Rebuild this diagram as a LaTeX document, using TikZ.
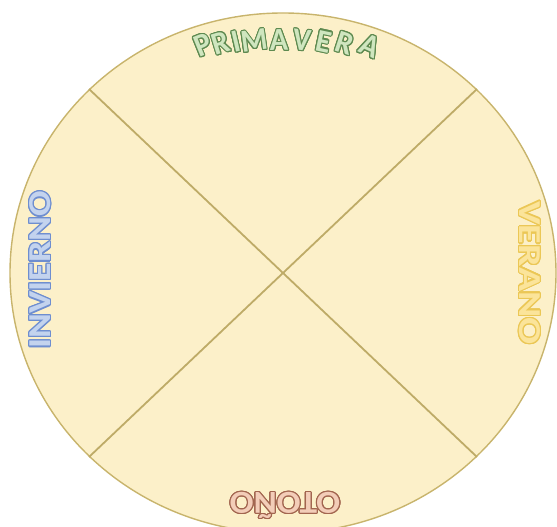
\documentclass[tikz,border=0pt]{standalone}
\usepackage{fontspec}
\setmainfont{Carlito}
\usepackage{contour}
\contourlength{1.1pt}
\definecolor{DISCfill}{HTML}{FCF0C9}
\definecolor{DISCline}{HTML}{C8B46C}
\definecolor{SPRINGfill}{HTML}{CFE6BF}
\definecolor{SPRINGline}{HTML}{5E8A50}
\definecolor{SUMMERfill}{HTML}{FBE49A}
\definecolor{SUMMERline}{HTML}{EBC755}
\definecolor{AUTUMNfill}{HTML}{F3CDB8}
\definecolor{AUTUMNline}{HTML}{A2654F}
\definecolor{WINTERfill}{HTML}{C3D3EE}
\definecolor{WINTERline}{HTML}{6E8ED0}
\usetikzlibrary{calc}

\begin{document}
\begin{tikzpicture}[x=1pt, y=1pt]
  \tikzset{
  disc/.style={draw=DISCline, fill=DISCfill, line width=1.4pt},
  cut/.style={draw=DISCline!95!black, line width=1.8pt},
  season/.style={inner sep=0pt, text height=21pt, text depth=0pt,
                 font=\fontsize{32}{32}\selectfont\bfseries},
}
\useasboundingbox (0,0) rectangle (557,527);
\clip (0,0) rectangle (557,527);

% ── Disc and the two diagonals ─────────────────────────────
\coordinate (C) at (283,254);
\draw[disc] (C) ellipse [x radius=273, y radius=260];

\coordinate (ne) at ($(C)+(194,184)$);
\coordinate (nw) at ($(C)+(-194,184)$);
\coordinate (sw) at ($(C)+(-194,-184)$);
\coordinate (se) at ($(C)+(194,-184)$);
\draw[cut] (nw) -- (se);
\draw[cut] (ne) -- (sw);

% ── PRIMAVERA (arched along the top) ───────────────────────
\foreach \ch/\px/\tilt [count=\i] in
  {P/203/22, R/221/17, I/236/13, M/254/8, A/279/1,
   V/302/-6, E/324/-12, R/345/-18, A/370/-24} {
  \pgfmathsetmacro\py{487-(\px-283)^2/1280}
  \node[season, rotate=\tilt, xscale=0.95, text=SPRINGfill]
    (spring\i) at (\px,\py) {\contour{SPRINGline}{\ch}};
}

% ── VERANO (right, reading downwards) ──────────────────────
\node[season, rotate=-90, xscale=1.25, text=SUMMERfill]
  (summer) at (530,254) {\contour{SUMMERline}{VERANO}};

% ── OTOÑO (bottom, upside down) ────────────────────────────
\node[season, rotate=180, xscale=1.1, text=AUTUMNfill]
  (autumn) at (285,24) {\contour{AUTUMNline}{OTOÑO}};

% ── INVIERNO (left, reading upwards) ───────────────────────
\node[season, rotate=90, xscale=1.18, text=WINTERfill]
  (winter) at (40,257) {\contour{WINTERline}{INVIERNO}};

\end{tikzpicture}
\end{document}
